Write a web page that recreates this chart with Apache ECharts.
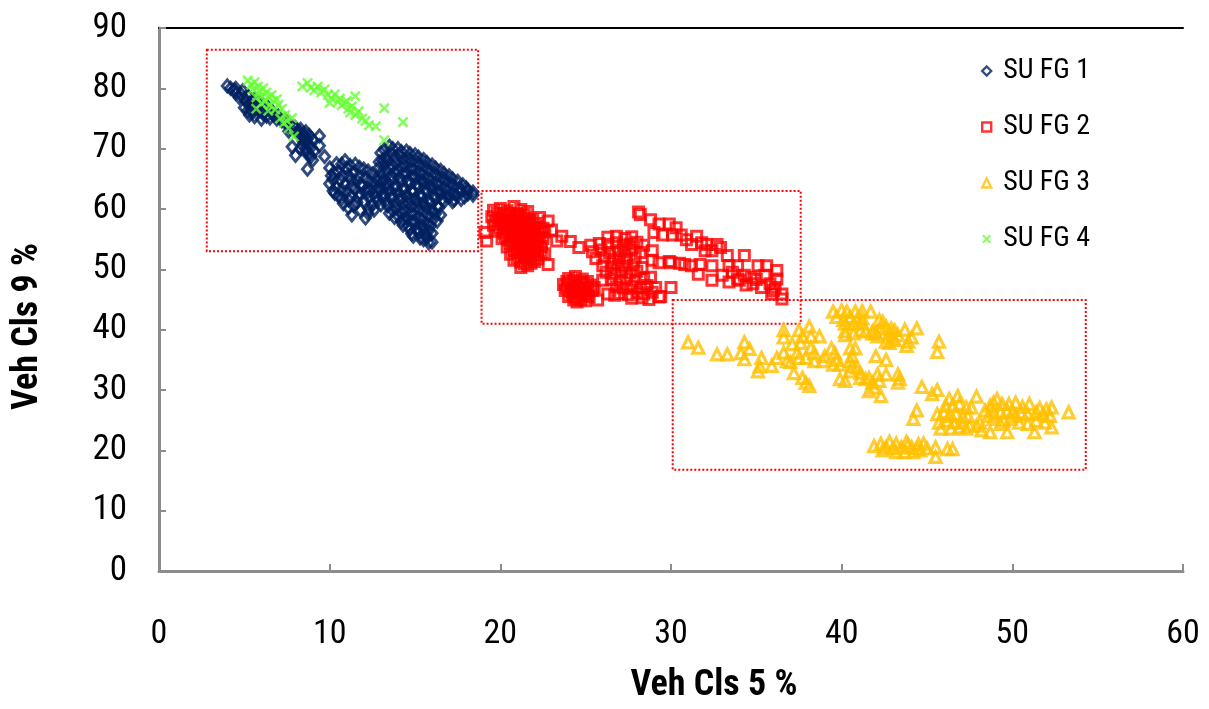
<!DOCTYPE html>
<html>
<head>
<meta charset="utf-8">
<script src="https://cdn.jsdelivr.net/npm/echarts/dist/echarts.min.js"></script>
<style>
  html, body { margin: 0; padding: 0; background: #ffffff; }
  #chart { width: 1209px; height: 709px; }
</style>
</head>
<body>
<div id="chart"></div>
<script>
// Series names shown in the legend
const seriesNames = ['SU FG 1', 'SU FG 2', 'SU FG 3', 'SU FG 4'];

// SU FG 1: [Veh Cls 5 %, Veh Cls 9 %]
const suFg1 = [
  [4.0,80.4],[4.2,80.0],[4.4,79.7],[4.5,79.2],[4.8,79.0],[4.7,78.5],[5.0,78.3],[5.1,77.8],[5.3,77.5],[5.5,77.9],
  [5.6,77.1],[5.8,76.6],[6.0,76.3],[6.1,75.8],[6.3,75.4],[6.5,75.1],[6.7,75.6],[6.4,76.8],[6.9,74.9],[7.2,74.6],
  [7.5,74.0],[7.7,73.4],[7.6,72.9],[7.9,73.6],[5.3,75.6],[5.6,75.3],[6.0,74.9],[5.0,76.8],[5.4,76.4],[5.9,77.6],
  [4.5,80.0],[4.9,79.6],[5.2,78.8],[5.6,78.2],[6.1,77.2],[6.6,76.3],[7.0,75.4],[7.4,74.8],[5.2,76.3],[5.5,76.0],
  [8.0,73.5],[8.3,73.2],[8.6,72.8],[8.2,72.3],[8.5,71.9],[8.8,72.2],[9.0,71.5],[8.7,71.0],[8.4,70.6],[8.9,70.2],
  [9.1,69.6],[8.6,69.4],[8.9,68.7],[9.0,68.1],[8.3,70.0],[9.4,72.1],[9.4,70.5],[7.8,70.3],[8.0,68.9],[8.7,66.6],[9.7,68.7],
  [8.15,72.9],[8.45,72.4],[8.7,71.6],[8.6,70.0],[8.8,69.0],[8.45,71.2],
  [10.0,66.8],[10.1,65.5],[10.0,64.2],[10.2,63.0],[10.4,67.5],[10.5,66.2],[10.6,64.8],[10.4,63.6],[10.5,62.2],[10.9,68.0],
  [11.0,66.8],[11.1,65.6],[10.9,64.1],[11.0,62.9],[11.1,61.5],[10.8,60.9],[11.5,67.4],[11.4,66.0],[11.6,64.6],[11.5,63.3],
  [11.7,62.0],[11.4,60.6],[11.3,59.0],[12.0,66.6],[12.1,65.2],[11.9,63.9],[12.2,62.7],[12.0,61.3],[12.1,58.5],[11.8,59.8],
  [12.3,60.0],[12.5,65.8],[12.6,64.3],[12.4,63.2],[12.7,62.0],[12.5,60.8],[12.9,66.9],[12.9,64.8],[12.8,63.5],
  [10.25,66.0],[10.2,64.9],[10.3,62.6],[10.7,67.4],[10.75,65.5],[10.7,63.2],[10.7,61.7],[11.2,67.2],[11.25,64.9],[11.3,63.8],
  [11.2,62.2],[11.1,60.2],[11.75,66.9],[11.7,65.4],[11.8,64.0],[11.75,62.6],[11.6,61.1],[12.25,66.3],[12.3,64.6],[12.2,63.4],
  [12.3,61.9],[12.25,59.3],[12.7,65.1],[12.7,63.0],[12.8,61.3],[12.6,59.8],
  [13.0,69.3],[13.1,68.1],[12.9,67.8],[13.0,65.8],[13.1,64.5],[13.0,63.2],[13.1,61.9],[13.0,60.7],
  [13.5,70.4],[13.6,69.2],[13.4,68.0],[13.5,66.8],[13.6,65.5],[13.4,64.3],[13.5,63.0],[13.6,61.8],[13.4,60.5],[13.5,59.3],
  [14.0,70.0],[14.1,68.9],[13.9,67.6],[14.0,66.4],[14.1,65.2],[13.9,63.9],[14.0,62.7],[14.1,61.4],[13.9,60.1],[14.0,58.9],[14.2,57.9],
  [14.5,69.6],[14.6,68.4],[14.4,67.2],[14.5,66.0],[14.6,64.7],[14.4,63.5],[14.5,62.3],[14.6,61.0],[14.4,59.7],[14.5,58.5],[14.6,57.2],
  [15.0,69.0],[15.1,67.8],[14.9,66.6],[15.0,65.4],[15.1,64.1],[14.9,62.9],[15.0,61.6],[15.1,60.4],[14.9,59.1],[15.0,57.9],[15.1,56.6],[14.9,55.5],
  [15.5,68.2],[15.6,67.0],[15.4,65.8],[15.5,64.5],[15.6,63.3],[15.4,62.0],[15.5,60.8],[15.6,59.5],[15.4,58.2],[15.5,57.0],[15.6,55.8],[15.5,54.9],
  [16.0,67.3],[16.1,66.0],[15.9,64.8],[16.0,63.6],[16.1,62.3],[15.9,61.0],[16.0,59.7],[16.1,58.4],[15.9,57.2],[16.0,56.0],[16.0,54.5],
  [16.5,66.4],[16.6,65.2],[16.4,64.0],[16.5,62.8],[16.6,61.6],[16.4,60.3],[16.5,59.0],
  [17.0,65.5],[17.1,64.3],[16.9,63.1],[17.0,62.0],[17.2,61.2],
  [17.5,64.6],[17.6,63.5],[17.4,62.3],[17.7,61.6],
  [18.0,63.5],[18.1,62.5],[18.4,62.8],[18.1,63.1],[18.4,62.3],
  [13.2,69.8],[13.3,68.6],[13.2,67.3],[13.3,66.2],[13.2,64.9],[13.3,63.6],[13.2,62.4],[13.3,61.2],
  [13.7,70.0],[13.8,68.5],[13.7,67.2],[13.8,66.0],[13.7,64.8],[13.8,63.5],[13.7,62.2],[13.8,61.0],[13.7,59.8],[13.8,58.6],
  [14.2,69.5],[14.3,68.2],[14.2,67.0],[14.3,65.8],[14.2,64.5],[14.3,63.2],[14.2,62.0],[14.3,60.8],[14.2,59.5],[14.3,58.3],[14.3,57.3],
  [14.7,69.2],[14.8,67.9],[14.7,66.7],[14.8,65.5],[14.7,64.2],[14.8,63.0],[14.7,61.8],[14.8,60.5],[14.7,59.3],[14.8,58.0],[14.7,56.6],[14.8,55.9],
  [15.2,68.6],[15.3,67.3],[15.2,66.1],[15.3,64.9],[15.2,63.6],[15.3,62.4],[15.2,61.1],[15.3,59.9],[15.2,58.6],[15.3,57.4],[15.2,56.1],[15.3,55.2],
  [15.7,67.7],[15.8,66.4],[15.7,65.2],[15.8,64.0],[15.7,62.7],[15.8,61.5],[15.7,60.2],[15.8,58.9],[15.7,57.6],[15.8,56.4],[15.7,55.2],[15.8,54.4],
  [16.2,66.8],[16.3,65.5],[16.2,64.3],[16.3,63.0],[16.2,61.7],[16.3,60.5],[16.2,59.2],[16.3,58.0],
  [16.7,65.9],[16.8,64.7],[16.7,63.5],[16.8,62.3],[16.7,61.2],
  [17.2,65.0],[17.3,63.8],[17.2,62.6],[17.3,61.5],
  [17.8,64.0],[17.7,62.9],[17.9,62.0]
];

// SU FG 2
const suFg2 = [
  [19.6,59.8],[20.0,60.1],[20.4,59.7],[20.8,60.4],[21.2,59.9],[21.6,59.6],
  [19.5,58.7],[19.9,58.5],[20.3,58.9],[20.7,58.4],[21.1,58.8],[21.5,58.5],[21.9,58.2],[22.3,58.6],[22.8,58.0],
  [19.6,57.3],[20.0,57.6],[20.4,57.2],[20.8,57.5],[21.2,57.1],[21.6,57.4],[22.0,57.0],[22.5,56.8],
  [19.1,56.1],[19.8,56.3],[20.2,56.0],[20.6,56.4],[21.0,56.1],[21.4,55.9],[21.8,56.3],[22.2,55.8],[22.6,56.2],[23.0,56.5],[23.6,55.5],
  [19.2,54.7],[20.1,55.1],[20.5,54.8],[20.9,55.2],[21.3,54.9],[21.7,55.0],[22.1,54.6],[22.5,55.1],[23.3,54.7],[24.1,54.6],
  [20.4,53.7],[20.8,54.0],[21.2,53.6],[21.6,53.9],[22.0,53.5],[22.4,53.8],
  [20.6,52.5],[21.0,52.8],[21.4,52.4],[21.8,52.7],[22.2,52.3],[22.6,52.6],
  [20.8,51.5],[21.2,51.2],[21.6,51.6],[22.0,51.3],[22.8,50.8],[21.2,50.3],[21.6,50.6],
  [19.8,59.3],[20.2,59.2],[20.6,59.3],[21.0,59.2],[21.4,59.1],
  [19.7,58.0],[20.1,58.0],[20.5,57.9],[20.9,58.0],[21.3,57.9],[21.7,57.8],[22.1,57.6],
  [19.9,56.8],[20.3,56.7],[20.7,56.9],[21.1,56.6],[21.5,56.7],[21.9,56.6],[22.3,56.4],
  [20.3,55.5],[20.7,55.6],[21.1,55.4],[21.5,55.5],[21.9,55.3],[22.3,55.3],
  [20.6,54.3],[21.0,54.4],[21.4,54.2],[21.8,54.4],[22.2,54.1],
  [20.8,53.1],[21.2,53.2],[21.6,53.0],[22.0,53.1],[22.4,52.9],
  [21.0,51.9],[21.4,52.0],[21.8,51.8],[22.2,51.7],[21.4,50.9],[21.8,51.0],
  [24.0,48.5],[24.4,48.8],[24.8,48.4],[23.7,47.5],[24.1,47.7],[24.5,47.3],[24.9,47.6],[25.3,47.4],
  [23.8,46.5],[24.2,46.3],[24.6,46.6],[25.0,46.2],[25.4,46.5],[24.0,45.5],[24.4,45.3],[24.8,45.6],[25.2,45.4],
  [24.5,44.6],[25.0,44.8],[25.7,44.9],[26.3,45.9],[25.5,47.0],[26.7,45.7],[26.0,48.2],
  [23.9,48.0],[24.3,48.1],[24.7,47.9],[25.1,48.0],[23.9,47.0],[24.3,47.0],[24.7,46.9],[25.1,46.9],
  [24.2,45.9],[24.6,46.0],[25.0,45.8],[24.3,44.9],[24.7,45.0],
  [26.3,55.3],[26.8,55.5],[27.3,55.1],[27.7,55.4],
  [25.3,54.0],[25.8,54.3],[26.3,54.1],[26.8,54.4],[27.2,54.0],[27.6,54.2],[28.0,54.5],[28.4,54.0],[28.9,53.1],
  [24.6,53.6],[25.4,52.9],[25.9,53.2],[26.4,52.8],[26.9,53.1],[27.3,52.9],[27.7,53.2],[28.2,52.8],
  [25.6,51.8],[26.1,52.0],[26.6,51.6],[27.0,51.9],[27.4,51.7],[27.9,51.9],[28.9,51.5],[30.0,51.1],
  [26.0,50.6],[26.5,50.4],[26.9,50.8],[27.3,50.5],[27.8,50.7],[28.3,50.3],
  [26.2,49.5],[26.7,49.3],[27.1,49.6],[27.6,49.4],[28.0,49.7],
  [26.5,48.3],[27.0,48.1],[27.4,48.4],[27.9,48.2],[28.4,48.5],[28.8,48.7],
  [26.8,47.1],[27.2,46.9],[27.7,47.2],[28.2,47.0],[28.6,47.3],[29.1,47.0],[30.0,47.0],
  [27.0,46.0],[27.5,45.8],[28.0,46.1],[28.4,45.9],[28.9,46.2],[29.4,45.5],
  [27.7,45.2],[28.3,45.3],[28.7,45.0],[29.3,45.4],
  [28.1,59.5],[28.2,59.1],[28.8,58.2],[29.3,57.5],[29.9,57.5],[30.3,56.9],[29.0,56.1],[29.5,55.7],[30.1,55.7],
  [30.6,55.7],[30.9,54.9],[31.5,55.5],[31.2,54.1],[31.8,54.4],[32.1,54.1],[32.0,53.1],[32.4,53.1],[32.7,54.1],[32.9,53.6],
  [29.3,51.1],[29.9,51.3],[30.5,51.0],[30.8,50.8],[31.2,50.6],[31.7,50.8],[31.6,49.2],[32.4,50.6],[32.4,48.2],[33.0,49.0],
  [33.3,52.3],[33.4,50.6],[33.9,50.6],[34.3,52.3],[33.4,47.9],[33.9,48.4],[34.3,49.0],[34.7,48.7],[33.6,49.5],
  [35.1,50.6],[35.6,50.6],[36.2,49.8],[36.2,48.4],[35.8,47.6],[35.3,47.0],[34.8,47.6],[35.0,48.3],[35.5,49.0],
  [35.9,45.9],[36.5,45.9],[36.5,45.1],[36.1,47.0],[36.0,46.5],[34.4,47.4],[34.0,48.2]
];

// SU FG 3
const suFg3 = [
  [31.0,37.9],[31.6,37.0],[32.7,35.9],[33.3,35.9],[34.1,36.1],[34.3,37.9],[34.6,36.8],[34.3,35.1],[35.1,33.1],[35.2,33.9],
  [35.3,35.3],[35.9,34.0],[36.2,35.3],[36.6,39.9],[36.6,38.7],[36.6,36.2],[36.8,34.8],[37.0,34.6],[37.1,37.6],[37.2,32.8],
  [37.5,39.9],[37.7,38.9],[38.1,40.5],[37.6,37.8],[37.5,35.3],[37.9,35.3],[37.4,36.2],[38.2,38.9],[38.7,38.9],[38.2,37.0],
  [38.4,36.1],[37.7,32.0],[37.9,31.2],[38.1,30.7],
  [38.4,34.8],[38.9,34.8],[39.0,35.6],[39.4,36.9],[39.6,36.1],[39.7,35.0],[39.9,34.2],[39.5,34.2],[40.2,39.7],[40.7,39.4],
  [40.5,36.9],[40.8,36.9],[40.6,35.6],[40.5,34.8],[40.6,33.9],[40.5,33.1],[40.9,33.7],[41.1,32.8],[39.9,31.8],[40.2,31.5],
  [41.1,32.0],[41.4,31.8],[41.6,32.0],[41.8,31.2],[42.1,32.6],[42.2,31.5],[41.6,29.8],[41.9,30.4],[42.3,29.0],[42.0,35.6],
  [42.6,35.0],[42.6,32.6],[43.3,32.6],[43.4,31.8],[43.3,31.2],[41.8,39.4],[42.1,38.9],
  [39.5,43.0],[40.0,43.2],[40.3,43.0],[40.8,43.0],[41.2,43.1],[41.7,43.0],[39.7,42.1],[40.1,41.6],[40.5,42.1],[40.9,41.6],
  [41.2,41.9],[40.7,41.0],[40.2,41.0],[41.2,41.1],[41.1,39.9],[40.2,39.1],[41.4,39.7],[41.8,39.7],[42.2,41.6],[42.4,41.3],
  [42.6,40.5],[42.9,40.2],[43.1,39.9],[42.8,39.4],[43.3,39.1],[43.0,38.6],[42.6,38.0],[42.8,37.8],[43.1,38.3],[43.7,40.0],
  [44.1,38.7],[43.9,38.0],[43.8,37.3],[44.4,40.2],[42.3,40.2],[42.0,39.4],[45.7,38.0],[45.6,36.3],
  [44.7,30.5],[45.3,29.3],[45.6,30.0],[44.4,26.6],[44.2,25.2],
  [46.3,28.5],[46.8,29.0],[47.9,28.9],[46.1,27.4],[46.5,27.4],[46.9,27.7],[47.3,27.1],[47.6,27.1],[45.6,26.0],[46.0,26.3],
  [46.3,25.7],[46.7,26.0],[47.1,25.5],[47.4,25.7],[45.7,24.6],[46.2,24.9],[46.6,24.6],[47.0,24.6],[47.5,24.1],[47.9,24.1],
  [48.2,23.3],[48.7,23.0],[45.8,23.6],[46.4,23.6],[46.9,23.8],[47.3,23.6],[48.1,24.6],
  [48.4,26.6],[48.7,27.4],[48.9,27.9],[49.1,28.5],[49.4,27.7],[49.8,27.7],[50.2,27.9],[51.0,27.7],[52.3,27.1],[53.3,26.3],
  [48.6,25.7],[48.9,26.3],[49.3,26.3],[49.7,26.6],[50.0,26.3],[50.5,26.3],[50.9,26.0],[51.4,26.3],[51.8,26.0],[52.2,25.7],
  [48.9,25.2],[49.5,24.9],[49.9,25.2],[50.4,24.6],[50.9,24.4],[51.4,24.9],[51.9,24.6],[52.3,23.8],[49.7,23.0],[51.3,23.0],
  [49.3,24.4],[50.6,27.2],[51.6,27.0],[52.0,26.8],[50.2,25.7],
  [41.9,20.7],[42.3,21.1],[42.6,20.5],[42.8,21.4],[43.0,20.3],[43.2,21.1],[43.5,20.5],[43.7,19.7],[43.8,21.4],[44.1,20.5],
  [44.4,20.3],[44.8,21.1],[45.0,20.3],[45.5,20.5],[45.5,18.9],[46.2,20.2],[46.5,20.2],[42.4,20.0],[43.2,19.7],[44.2,19.7],
  [44.6,20.0],[43.9,20.9],[44.5,21.0]
];

// SU FG 4
const suFg4 = [
  [5.2,81.3],[5.4,80.6],[5.6,81.0],[5.5,79.8],[5.8,80.3],[5.9,79.5],[6.1,80.0],[6.0,78.8],[6.3,79.3],[6.4,78.5],
  [6.2,77.8],[6.6,78.9],[6.7,77.9],[6.5,77.2],[6.9,78.2],[7.0,77.3],[6.8,76.5],[7.2,76.6],[6.4,76.3],[7.4,75.6],
  [7.1,75.0],[7.5,74.6],[7.3,74.2],[7.8,75.1],[7.6,73.4],[7.9,72.0],[5.7,78.5],[6.0,77.5],[5.7,76.6],
  [8.4,80.3],[8.7,80.9],[8.9,80.1],[9.1,79.7],[9.3,80.3],[9.5,79.3],[9.7,79.8],[9.9,78.9],[10.1,78.4],[10.3,79.0],
  [10.5,77.8],[10.7,77.2],[10.6,78.3],[10.9,77.6],[11.1,76.6],[11.3,77.0],[11.2,76.0],[11.5,75.6],[11.7,76.2],[11.9,75.0],
  [12.1,74.6],[12.3,73.9],[12.7,73.7],[11.5,78.7],[13.2,76.7],[14.3,74.4],[13.2,71.4],[10.0,77.6],[11.0,77.9]
];

// Dotted outline regions: [[x1, y1], [x2, y2]]
const regionBoxes = [
  [[2.8, 86.4], [18.7, 53.0]],
  [[18.9, 63.0], [37.6, 41.0]],
  [[30.1, 44.9], [54.3, 16.8]]
];

const seriesColors = ['#002060', '#ff0000', '#ffc000', '#66ff33'];
const seriesSymbols = [
  'diamond',
  'rect',
  'triangle',
  'path://M1.6,0L5,3.4L8.4,0L10,1.6L6.6,5L10,8.4L8.4,10L5,6.6L1.6,10L0,8.4L3.4,5L0,1.6Z'
];
const symbolSizes = [[10, 12], 10, 11, 11];
const borderWidths = [3, 3, 3.2, 0];
const seriesData = [suFg1, suFg2, suFg3, suFg4];

const narrow = "'Liberation Sans Narrow', 'Arial Narrow', 'Roboto Condensed', 'Open Sans Condensed', 'Liberation Sans', sans-serif";
const axisGray = '#8c8c8c';

const chart = echarts.init(document.getElementById('chart'), null, { renderer: 'canvas' });

const scatterSeries = seriesNames.map((name, i) => {
  const filled = i === 3;
  return {
    name: name,
    type: 'scatter',
    data: seriesData[i],
    symbol: seriesSymbols[i],
    symbolSize: symbolSizes[i],
    itemStyle: filled
      ? { color: seriesColors[i] }
      : { color: 'rgba(255,255,255,0)', borderColor: seriesColors[i], borderWidth: borderWidths[i] },
    emphasis: { disabled: true },
    z: 3 + i
  };
});

const option = {
  animation: false,
  backgroundColor: '#ffffff',
  grid: { left: 159, right: 26, top: 28, bottom: 132 },
  legend: {
    data: seriesNames.map((n, i) => ({
      name: n,
      itemStyle: i === 3 ? { color: seriesColors[i] } : { color: 'rgba(255,255,255,0)', borderColor: seriesColors[i], borderWidth: 2.4 }
    })),
    orient: 'vertical',
    left: 976,
    top: 51,
    itemWidth: 9,
    itemHeight: 9,
    itemGap: 26,
    textStyle: { fontFamily: narrow, fontSize: 28, color: '#000', lineHeight: 30, padding: [0, 0, 0, 7] }
  },
  xAxis: [
    {
      type: 'value', min: 0, max: 60, interval: 10,
      axisLine: { show: true, onZero: false, lineStyle: { color: axisGray, width: 3 } },
      axisTick: { show: true, inside: true, length: 7, lineStyle: { color: axisGray, width: 2 } },
      splitLine: { show: false },
      axisLabel: { margin: 46, fontFamily: narrow, fontSize: 34, color: '#000' },
      name: 'Veh Cls 5 %',
      nameLocation: 'middle',
      nameGap: 97,
      nameTextStyle: { fontFamily: narrow, fontWeight: 'bold', fontSize: 36, color: '#000', padding: [0, 0, 0, 86] }
    },
    {
      type: 'value', min: 0, max: 60, position: 'top',
      axisLine: { show: true, onZero: false, lineStyle: { color: '#000', width: 2 } },
      axisTick: { show: false }, axisLabel: { show: false }, splitLine: { show: false }
    }
  ],
  yAxis: {
    type: 'value', min: 0, max: 90, interval: 10,
    axisLine: { show: true, onZero: false, lineStyle: { color: axisGray, width: 3 } },
    axisTick: { show: true, inside: true, length: 7, lineStyle: { color: axisGray, width: 2 } },
    splitLine: { show: false },
    axisLabel: { margin: 32, fontFamily: narrow, fontSize: 35, color: '#000' },
    name: 'Veh Cls 9 %',
    nameLocation: 'middle',
    nameGap: 113,
    nameTextStyle: { fontFamily: narrow, fontWeight: 'bold', fontSize: 36, color: '#000', padding: [0, 54, 0, 0] }
  },
  series: [
    {
      name: 'regions',
      type: 'scatter',
      data: [],
      silent: true,
      z: 2,
      markArea: {
        silent: true,
        itemStyle: { color: 'rgba(0,0,0,0)', borderColor: '#ff0000', borderWidth: 2, borderType: 'dotted' },
        label: { show: false },
        data: regionBoxes.map(b => [{ coord: b[0] }, { coord: b[1] }])
      }
    }
  ].concat(scatterSeries)
};

chart.setOption(option);
</script>
</body>
</html>
